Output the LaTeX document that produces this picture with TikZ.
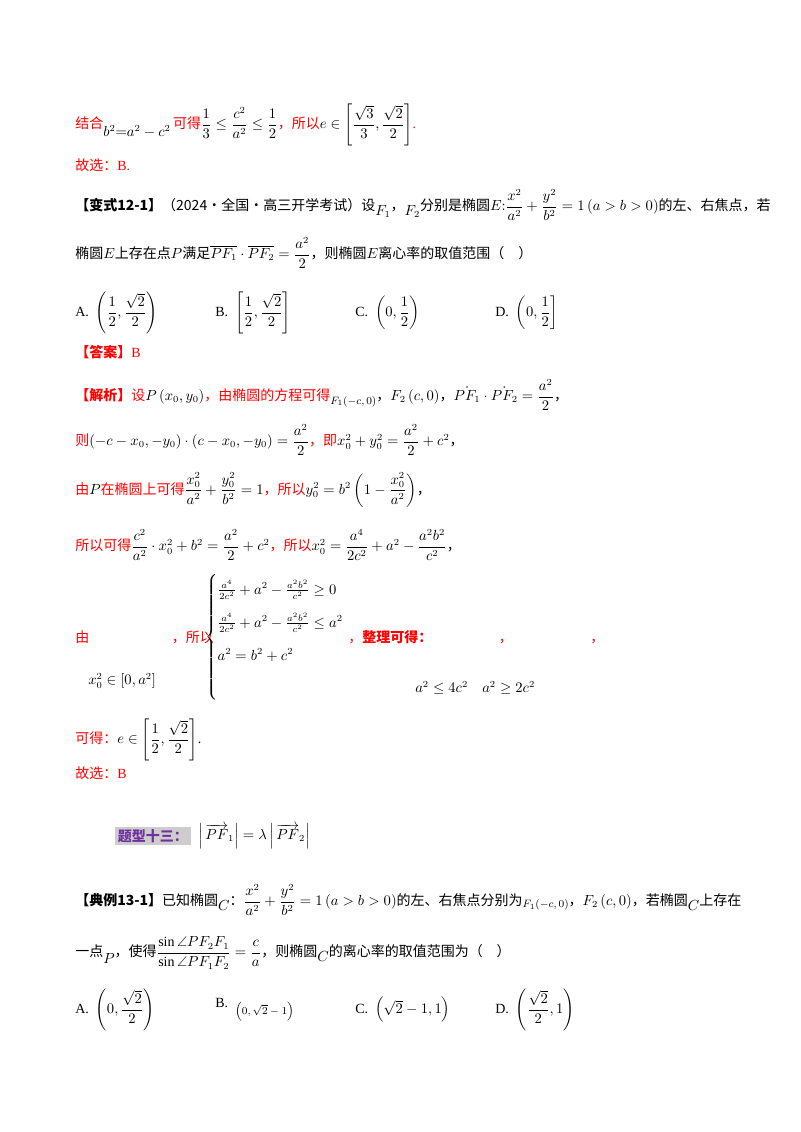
\documentclass[tikz,border=0pt]{standalone}
\usepackage{amsmath,amssymb}
\usepackage{fontspec}
\setmainfont{Liberation Serif}
\newfontfamily\cjk{Noto Sans CJK SC}
\definecolor{rd}{RGB}{255,0,0}
\definecolor{pp}{RGB}{112,48,160}
\definecolor{hl}{RGB}{205,205,205}
\newcommand{\zh}[1]{{\cjk #1}}
\begin{document}
\begin{tikzpicture}[x=0.75pt,y=-0.75pt,
  ln/.style={anchor=west,inner sep=0pt,font=\fontsize{10.5}{13}\selectfont},
  every node/.style={}]
\useasboundingbox (0,0) rectangle (800,1132);
\node[ln] (l1) at (75,125) {\color{rd}\zh{结合}\raisebox{-1.2ex}{$\color{black}b^2{=}a^2-c^2$}\,\zh{可得}$\color{black}\dfrac13\le\dfrac{c^2}{a^2}\le\dfrac12$\zh{，所以}$\color{black}e\in\left[\dfrac{\sqrt3}{3},\dfrac{\sqrt2}{2}\right]$.};
\node[ln] (l2) at (75,165) {\color{rd}\zh{故选：}B.};
\node[ln] (l3) at (75,205) {\zh{\textbf{【变式12-1】}（2024·全国·高三开学考试）设}\raisebox{-0.8ex}{$F_1$}\zh{，}\raisebox{-0.8ex}{$F_2$}\zh{分别是椭圆}$E{:}\dfrac{x^2}{a^2}+\dfrac{y^2}{b^2}=1\left(a>b>0\right)$\zh{的左、右焦点，若}};
\node[ln] (l4) at (75,253) {\zh{椭圆}$E$\zh{上存在点}$P$\zh{满足}$\overline{PF_1}\cdot\overline{PF_2}=\dfrac{a^2}{2}$\zh{，则椭圆}$E$\zh{离心率的取值范围（\quad）}};
\node[ln] (oA) at (75,313) {A.\ \ $\left(\dfrac12,\dfrac{\sqrt2}{2}\right)$};
\node[ln] (oB) at (215,313) {B.\ \ $\left[\dfrac12,\dfrac{\sqrt2}{2}\right]$};
\node[ln] (oC) at (355,313) {C.\ \ $\left(0,\dfrac12\right)$};
\node[ln] (oD) at (495,313) {D.\ \ $\left(0,\dfrac12\right]$};
\node[ln] (ans) at (75,352) {\color{rd}\zh{\textbf{【答案】}}B};
\node[ln] (l5) at (75,395) {\color{rd}\zh{\textbf{【解析】}设}\color{black}$P\left(x_0,y_0\right)$\color{rd}\zh{，由椭圆的方程可得}\color{black}\raisebox{-0.6ex}{\footnotesize$F_1\!\left(-c,0\right)$}\zh{，}$F_2\left(c,0\right)$\zh{，}$\dot{PF_1}\cdot\dot{PF_2}=\dfrac{a^2}{2}$\zh{，}};
\node[ln] (l6) at (75,440) {\color{rd}\zh{则}\color{black}$\left(-c-x_0,-y_0\right)\cdot\left(c-x_0,-y_0\right)=\dfrac{a^2}{2}$\color{rd}\zh{，即}\color{black}$x_0^2+y_0^2=\dfrac{a^2}{2}+c^2$\zh{，}};
\node[ln] (l7) at (75,490) {\color{rd}\zh{由}\color{black}$P$\color{rd}\zh{在椭圆上可得}\color{black}$\dfrac{x_0^2}{a^2}+\dfrac{y_0^2}{b^2}=1$\color{rd}\zh{，所以}\color{black}$y_0^2=b^2\left(1-\dfrac{x_0^2}{a^2}\right)$\zh{，}};
\node[ln] (l8) at (75,545) {\color{rd}\zh{所以可得}\color{black}$\dfrac{c^2}{a^2}\cdot x_0^2+b^2=\dfrac{a^2}{2}+c^2$\color{rd}\zh{，所以}\color{black}$x_0^2=\dfrac{a^4}{2c^2}+a^2-\dfrac{a^2b^2}{c^2}$\zh{，}};
\node[ln] (l9) at (75,637) {\color{rd}\zh{由}\hspace{62pt}\zh{，所以}};
\node[ln] (cs) at (205,637) {$\left\{\renewcommand{\arraystretch}{1.9}\begin{array}{@{}l@{}}\frac{a^4}{2c^2}+a^2-\frac{a^2b^2}{c^2}\ge0\\\frac{a^4}{2c^2}+a^2-\frac{a^2b^2}{c^2}\le a^2\\ a^2=b^2+c^2\\ \rule{0pt}{14pt}\end{array}\right.$};
\node[ln] (l9b) at (348,637) {\color{rd}\zh{，\textbf{整理可得：}}\hspace{50pt}\zh{，}\hspace{58pt}\zh{，}};
\node[ln] (x0) at (88,681) {$x_0^2\in\left[0,a^2\right]$};
\node[ln] (r1) at (415,688) {$a^2\le4c^2$};
\node[ln] (r2) at (482,688) {$a^2\ge2c^2$};
\node[ln] (l10) at (75,740) {\color{rd}\zh{可得：}\color{black}$e\in\left[\dfrac12,\dfrac{\sqrt2}{2}\right]$.};
\node[ln] (l11) at (75,773) {\color{rd}\zh{故选：}B};
\node[ln,fill=hl,inner sep=2pt,text=pp] (h) at (115,836) {\zh{\bfseries 题型十三：}};
\node[ln] (hm) at (198,836) {$\left|\,\overrightarrow{PF}_1\right|=\lambda\left|\,\overrightarrow{PF}_2\right|$};
\node[ln] (l12) at (75,900) {\zh{\textbf{【典例13-1】}已知椭圆}\raisebox{-0.8ex}{$C$}\zh{：}$\dfrac{x^2}{a^2}+\dfrac{y^2}{b^2}=1\left(a>b>0\right)$\zh{的左、右焦点分别为}\raisebox{-0.3ex}{\footnotesize$F_1\!\left(-c,0\right)$}\zh{，}$F_2\left(c,0\right)$\zh{，若椭圆}\raisebox{-0.8ex}{$C$}\zh{上存在}};
\node[ln] (l13) at (75,953) {\zh{一点}\raisebox{-1ex}{$P$}\zh{，使得}$\dfrac{\sin\angle PF_2F_1}{\sin\angle PF_1F_2}=\dfrac{c}{a}$\zh{，则椭圆}\raisebox{-0.8ex}{$C$}\zh{的离心率的取值范围为（\quad）}};
\node[ln] (pA) at (75,1010) {A.\ \ $\left(0,\dfrac{\sqrt2}{2}\right)$};
\node[ln] (pB) at (215,1010) {B.\ \ \raisebox{-1ex}{\footnotesize$\left(0,\sqrt2-1\right)$}};
\node[ln] (pC) at (355,1010) {C.\ \ $\left(\sqrt2-1,1\right)$};
\node[ln] (pD) at (495,1010) {D.\ \ $\left(\dfrac{\sqrt2}{2},1\right)$};
\end{tikzpicture}
\end{document}
